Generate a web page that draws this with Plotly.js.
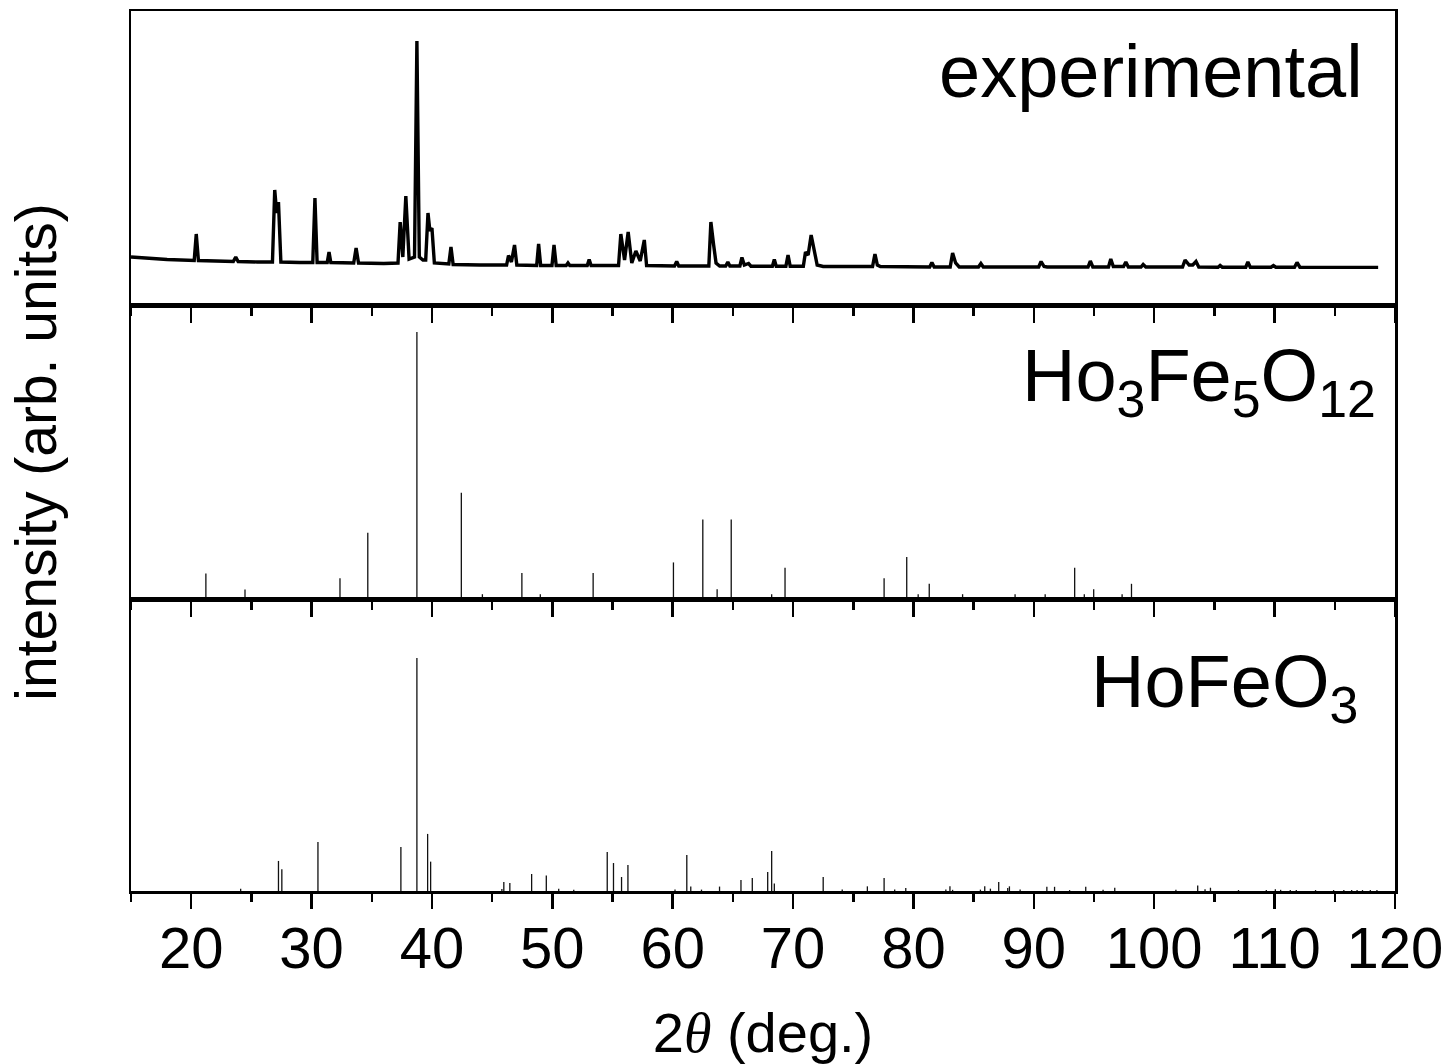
<!DOCTYPE html>
<html><head><meta charset="utf-8">
<script src="https://cdn.plot.ly/plotly-3.0.1.min.js"></script>
<style>html,body{margin:0;padding:0;background:#fff}</style>
</head><body><div id="chart" style="width:1447px;height:1064px"></div>
<script>
// Experimental pattern (2theta in deg, intensity arb. units)
const expTheta = [15.0,16.5,18.0,20.25,20.42,20.6,22.0,23.5,23.7,23.9,25.5,26.75,26.94,27.1,27.25,27.45,29.0,30.1,30.28,30.46,31.3,31.45,31.6,33.5,33.7,33.9,36.0,37.18,37.36,37.58,37.83,38.1,38.55,38.75,38.95,39.25,39.48,39.67,39.83,40.0,40.2,41.4,41.58,41.76,44.0,46.2,46.36,46.6,46.86,47.05,48.7,48.86,49.03,49.97,50.14,50.32,51.15,51.3,51.45,52.9,53.06,53.22,55.5,55.69,56.0,56.3,56.6,56.94,57.3,57.64,57.83,60.15,60.33,60.5,63.0,63.17,63.4,63.6,63.9,64.4,64.58,64.75,65.58,65.75,65.95,66.3,66.5,68.28,68.44,68.6,69.4,69.58,69.76,70.85,71.03,71.25,71.5,71.75,72.0,72.5,76.6,76.8,77.0,77.25,81.35,81.53,81.72,83.05,83.25,83.5,83.8,85.4,85.6,85.8,90.4,90.6,90.85,91.1,94.5,94.69,94.9,96.2,96.39,96.6,97.45,97.64,97.85,98.9,99.08,99.3,102.35,102.56,102.9,103.2,103.47,103.7,105.3,105.47,105.65,107.6,107.78,107.98,109.7,109.9,110.1,111.65,111.86,112.1,115.0,118.6];
const expIntensity = [48,46.5,45.5,44.5,71,44.5,44,43.5,48,43.5,43,43,115,92,103,43,42.5,42.5,107,42.5,42.5,53,42.5,42,57,42,41.5,42,83,48,109,46,48,264,48,45,45,92,74,77,42,41,58,40.5,40,40,49.5,43,60,40,39.5,61,39.5,39.5,60,39.5,39.5,42,39.5,39.5,45.5,39.5,39.5,71,45,73,42,54,44,65,39.5,39,43.5,39,39,83,60,42,39,39,43,39,39,47.5,40,41.5,38.8,38.8,45.5,38.8,38.8,50,38.8,38.8,53,50,70,56,40,38.5,38.5,51,40,38.5,38,42.5,38,38,52,42,38,38,41.5,38,38,43.5,38.5,38,38,44,38,38,46,38.5,38.5,43,38,38,40.5,38,38,45,40,40,43.5,38,37.8,39.5,37.8,37.8,43,37.8,37.8,39.5,37.8,37.8,42.5,37.8,37.8,37.6];

// Ho3Fe5O12 reference lines (relative intensity, %)
const garnetTheta = [21.22,24.47,32.36,34.67,38.75,42.44,44.19,47.47,49.0,53.39,60.06,62.5,63.69,64.86,68.22,69.33,77.56,79.44,80.39,81.31,84.08,88.44,90.94,93.39,94.19,94.97,97.33,98.11];
const garnetInt = [9.6,3.6,7.8,24.8,100,39.8,1.8,9.7,1.8,9.7,13.7,29.8,3.7,29.8,1.8,11.7,7.8,15.7,1.8,5.7,1.8,1.8,1.8,11.7,1.8,3.7,1.8,5.7];

// HoFeO3 reference lines (relative intensity, %)
const perovTheta = [24.11,27.25,27.53,30.53,37.42,38.75,39.64,39.89,45.81,45.97,46.47,48.28,49.5,50.53,51.78,54.56,55.08,55.75,56.28,60.19,61.17,61.5,62.39,63.89,65.67,66.61,67.89,68.22,68.44,72.5,74.08,76.17,77.56,78.44,79.36,82.69,83.03,83.25,85.56,85.92,86.39,87.08,87.83,87.97,88.86,91.08,91.72,92.97,94.31,95.75,96.72,101.8,103.61,104.22,104.67,107.0,109.31,110.06,110.5,111.3,111.8,113.4,114.9,115.75,116.4,116.85,117.3,117.95,118.5];
const perovInt = [1,12.9,9.3,21,18.9,100,24.5,12.6,0.9,3.9,3.4,7.3,6.7,1,0.5,16.7,12,6,11.2,0.6,15.5,1.9,0.6,1.9,4.7,5.6,8.2,17.2,3.2,6,0.6,2,5.6,0.6,1.3,0.6,2,0.5,0.6,2,1,3.9,1.3,2,0.6,1.8,1.8,0.4,1.8,0.5,1.4,0.5,2.4,0.8,1.4,0.4,0.4,0.8,0.5,0.4,0.4,0.4,0.4,0.4,0.4,0.4,0.4,0.4,0.4];

const panelLabels = ['experimental', 'Ho<sub>3</sub>Fe<sub>5</sub>O<sub>12</sub>', 'HoFeO<sub>3</sub>'];
const xTickVals = [20,30,40,50,60,70,80,90,100,110,120];
const xTitle = '2<span style="font-family:\'Liberation Serif\',serif"><i>θ</i></span> (deg.)';
const yTitle = 'intensity (arb. units)';

function sticks(pos, val) {
  const xs = [], ys = [];
  for (let i = 0; i < pos.length; i++) { xs.push(pos[i], pos[i], null); ys.push(0, val[i], null); }
  return {x: xs, y: ys};
}
const g = sticks(garnetTheta, garnetInt);
const p = sticks(perovTheta, perovInt);

const FONT = 'Liberation Sans, Arial, sans-serif';
const data = [
  {type:'scatter', mode:'lines', x: expTheta, y: expIntensity, xaxis:'x', yaxis:'y',
   line:{color:'#000', width:3.4}, hoverinfo:'skip', showlegend:false},
  {type:'scatter', mode:'lines', x: g.x, y: g.y, xaxis:'x2', yaxis:'y2',
   line:{color:'#111', width:1.3}, hoverinfo:'skip', showlegend:false, connectgaps:false},
  {type:'scatter', mode:'lines', x: p.x, y: p.y, xaxis:'x3', yaxis:'y3',
   line:{color:'#111', width:1.3}, hoverinfo:'skip', showlegend:false, connectgaps:false}
];

function xax(anchor, labels) {
  return {
    anchor: anchor, range:[15,120], tickvals: xTickVals, ticks:'outside', ticklen:15, tickwidth:2.5,
    tickcolor:'#000', showline:true, linewidth:2.5, linecolor:'#000', mirror:true,
    showgrid:false, zeroline:false, showticklabels: labels,
    tickfont:{family:FONT, size:58, color:'#000'}, ticklabelstandoff:-10,
    minor:{ticks:'outside', dtick:5, tick0:0, ticklen:8, tickwidth:2.5, tickcolor:'#000', showgrid:false}
  };
}
function yax(dom, rng) {
  return {domain: dom, range: rng, showline:true, linewidth:2.5, linecolor:'#000', mirror:true,
    ticks:'', showticklabels:false, showgrid:false, zeroline:false};
}

const layout = {
  width:1447, height:1064,
  margin:{l:131, r:52, t:11, b:173},
  paper_bgcolor:'#fff', plot_bgcolor:'#fff',
  font:{family:FONT, color:'#000'},
  showlegend:false,
  xaxis: xax('y', false),
  xaxis2: Object.assign(xax('y2', false), {matches:'x'}),
  xaxis3: Object.assign(xax('y3', true), {matches:'x',
    title:{text: xTitle, font:{family:FONT, size:56, color:'#000'}, standoff: 38}}),
  yaxis: yax([0.6659, 1], [0, 294]),
  yaxis2: Object.assign(yax([0.3318, 0.6659], [0, 110.1]),
    {title:{text: yTitle, font:{family:FONT, size:57, color:'#000'}, standoff: 54}}),
  yaxis3: yax([0, 0.3318], [0, 125.3]),
  annotations: [
    {xref:'paper', yref:'paper', x:0.9763, y:0.9307, xanchor:'right', yanchor:'middle', showarrow:false,
     text: panelLabels[0], font:{family:FONT, size:74, color:'#000'}},
    {xref:'paper', yref:'paper', x:0.9866, y:0.58, xanchor:'right', yanchor:'middle', showarrow:false,
     text: panelLabels[1], font:{family:FONT, size:74, color:'#000'}},
    {xref:'paper', yref:'paper', x:0.9723, y:0.232, xanchor:'right', yanchor:'middle', showarrow:false,
     text: panelLabels[2], font:{family:FONT, size:74, color:'#000'}}
  ]
};
Plotly.newPlot('chart', data, layout, {staticPlot:true, displayModeBar:false});
</script></body></html>
